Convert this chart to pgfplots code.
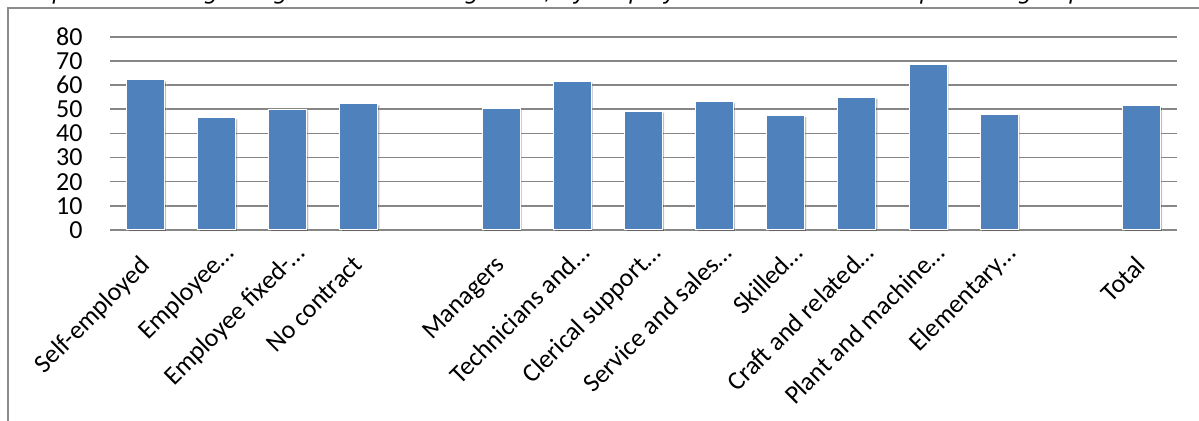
\documentclass[border=0pt]{standalone}
\usepackage{pgfplots}
\pgfplotsset{compat=1.18}
\usepackage{fontspec}
\setmainfont{Carlito}
\newfontfamily\titlefont{DejaVu Sans}
\usetikzlibrary{shadows}
\definecolor{barblue}{HTML}{4F81BD}
\definecolor{gridgray}{HTML}{868686}
\definecolor{framegray}{HTML}{8C8C8C}
\begin{document}
\begin{tikzpicture}
\clip (0,0) rectangle (599.5pt,210.5pt);
% title (cut at the top, as in the reference)
\node[anchor=base west, inner sep=0pt] at (6pt,210.5pt)
  {\resizebox{535.5pt}{!}{\titlefont\itshape Graph 26 - Average length of the working week, by employment status and occupational group}};
% chart frame
\draw[framegray, line width=0.8pt] (4pt,-5pt) -- (4pt,206.5pt) -- (620pt,206.5pt);
\begin{axis}[
  at={(55pt,95.5pt)}, anchor=south west,
  scale only axis, width=533.5pt, height=96.65pt,
  xmin=-0.5, xmax=14.5, ymin=0, ymax=80,
  ytick={0,10,...,80},
  xtick={0,1,2,3,5,6,7,8,9,10,11,12,14},
  xticklabels={Self-employed, Employee\rlap{…}, Employee fixed-\rlap{…}, No contract,
    Managers, Technicians and\rlap{…}, Clerical support\rlap{…}, Service and sales\rlap{…},
    Skilled\rlap{…}, Craft and related\rlap{…}, Plant and machine\rlap{…}, Elementary\rlap{…}, Total},
  axis line style={draw=none},
  major tick length=0pt,
  ymajorgrids,
  grid style={gridgray, line width=0.8pt},
  /pgf/number format/assume math mode=true,
  yticklabel style={font=\fontsize{13pt}{13pt}\selectfont, anchor=east, inner sep=0pt, xshift=-13.5pt},
  xticklabel style={font=\fontsize{13pt}{13pt}\selectfont, inner sep=0pt, anchor=north east, xshift=-3.5pt, yshift=-12pt, rotate=45},
  clip=false,
]
\addplot[ybar, bar width=19pt, fill=barblue, draw=white, line width=0.5pt,
  drop shadow={shadow xshift=0.8pt, shadow yshift=-0.6pt, opacity=0.25, fill=black}]
  coordinates {(0,62.1) (1,46.4) (2,50.0) (3,52.2) (5,50.1) (6,61.3) (7,49.1) (8,53.0) (9,47.3) (10,54.8) (11,68.3) (12,47.9) (14,51.5)};
\end{axis}
\end{tikzpicture}
\end{document}
